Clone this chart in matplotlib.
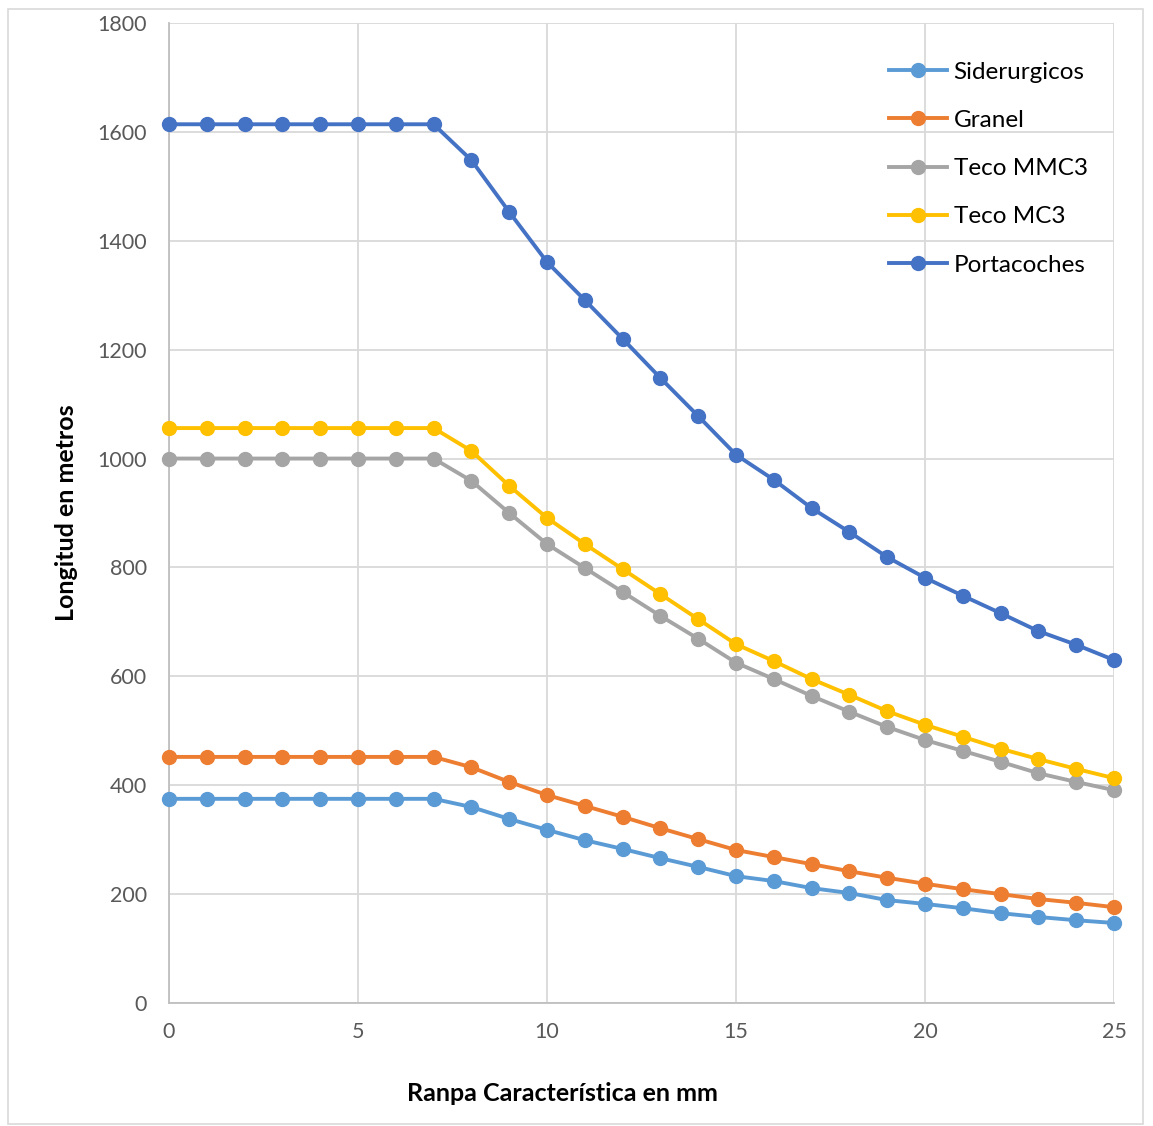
import matplotlib.pyplot as plt
from matplotlib.patches import Rectangle

# ranpa caracteristica (mm)
ranpa = list(range(0, 26))

siderurgicos = [375, 375, 375, 375, 375, 375, 375, 375, 360, 338, 318, 299, 283, 266, 250,
                233, 224, 211, 202, 189, 182, 174, 165, 158, 152, 147]
granel = [452, 452, 452, 452, 452, 452, 452, 452, 433, 406, 382, 362, 342, 321, 301,
          281, 268, 255, 242, 230, 219, 209, 200, 191, 184, 176]
teco_mmc3 = [1000, 1000, 1000, 1000, 1000, 1000, 1000, 1000, 959, 900, 843, 799, 755, 711, 669,
             625, 595, 564, 535, 507, 483, 463, 443, 422, 406, 391]
teco_mc3 = [1056, 1056, 1056, 1056, 1056, 1056, 1056, 1056, 1014, 950, 891, 843, 797, 751, 705,
            659, 628, 595, 566, 536, 511, 489, 467, 448, 430, 413]
portacoches = [1614, 1614, 1614, 1614, 1614, 1614, 1614, 1614, 1548, 1453, 1361, 1291, 1220, 1148, 1078,
               1007, 961, 909, 865, 819, 781, 748, 716, 683, 658, 630]

series = [("Siderurgicos", siderurgicos, "#5B9BD5"),
          ("Granel", granel, "#ED7D31"),
          ("Teco MMC3", teco_mmc3, "#A5A5A5"),
          ("Teco MC3", teco_mc3, "#FFC000"),
          ("Portacoches", portacoches, "#4472C4")]

plt.rcParams['font.family'] = ['Lato', 'DejaVu Sans']

fig = plt.figure(figsize=(11.53, 11.26), dpi=100)
fig.patches.append(Rectangle((8 / 1153, 2 / 1126), 1135 / 1153, 1115 / 1126,
                             transform=fig.transFigure, fill=False,
                             edgecolor="#d9d9d9", linewidth=1.2))
ax = fig.add_axes([169 / 1153, 123 / 1126, 945 / 1153, 980 / 1126])

for name, vals, col in series:
    ax.plot(ranpa, vals, color=col, linewidth=2.8, marker="o", markersize=10,
            label=name, clip_on=False, zorder=3)

ax.set_xlim(0, 25)
ax.set_ylim(0, 1800)
ax.set_xticks([0, 5, 10, 15, 20, 25])
ax.set_yticks(range(0, 1801, 200))
ax.grid(True, color="#d9d9d9", linewidth=1.3)
ax.set_axisbelow(True)
for s in ["top", "right"]:
    ax.spines[s].set_visible(False)
for s in ["left", "bottom"]:
    ax.spines[s].set_color("#bfbfbf")
    ax.spines[s].set_linewidth(1.3)
ax.tick_params(length=0, labelsize=15.5, labelcolor="#595959")
ax.tick_params(axis="y", pad=16)
ax.tick_params(axis="x", pad=14)

ax.set_xlabel("Ranpa Característica en mm", fontsize=18, fontweight="bold")
ax.xaxis.set_label_coords(0.416, -0.081)
ax.set_ylabel("Longitud en metros", fontsize=18, fontweight="bold", labelpad=14)

ax.legend(loc="upper right", bbox_to_anchor=(0.99, 0.978), frameon=False, fontsize=17.5,
          handlelength=2.4, labelspacing=1.12, handletextpad=0.25, borderaxespad=0.3)

fig.savefig("out.png", dpi=100)
